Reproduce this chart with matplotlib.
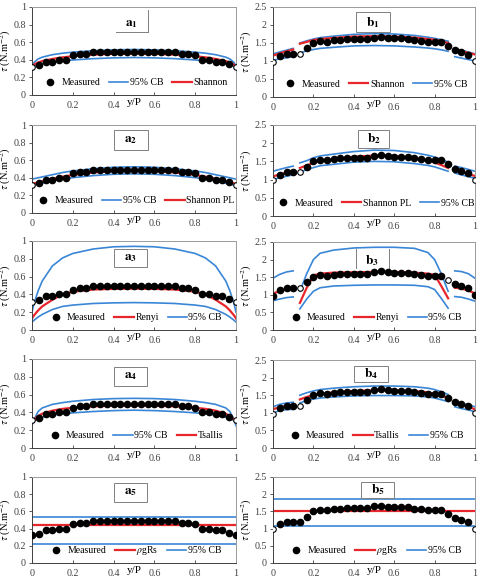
import numpy as np
import matplotlib
matplotlib.use('Agg')
import matplotlib.pyplot as plt
from matplotlib.lines import Line2D
from matplotlib.patches import Rectangle

plt.rcParams['font.family'] = ['Liberation Serif', 'DejaVu Serif']
plt.rcParams['mathtext.fontset'] = 'stix'

RED = '#e8262b'
BLUE = '#3a86d6'

# measured points (31 verticals, y/P)
ym = [0, 0.033, 0.067, 0.1, 0.133, 0.167, 0.2, 0.233, 0.267, 0.3, 0.333,
      0.367, 0.4, 0.433, 0.467, 0.5, 0.533, 0.567, 0.6, 0.633, 0.667,
      0.7, 0.733, 0.767, 0.8, 0.833, 0.867, 0.9, 0.933, 0.967, 1]
tau_a = [0.32, 0.34, 0.38, 0.38, 0.40, 0.40, 0.45, 0.47, 0.47, 0.49, 0.49,
         0.49, 0.49, 0.49, 0.49, 0.49, 0.49, 0.49, 0.49, 0.49, 0.49,
         0.49, 0.47, 0.47, 0.45, 0.40, 0.40, 0.38, 0.38, 0.35, 0.32]
tau_b = [0.98, 1.13, 1.20, 1.20, 1.20, 1.35, 1.50, 1.55, 1.53, 1.57, 1.58,
         1.60, 1.60, 1.60, 1.60, 1.65, 1.67, 1.64, 1.63, 1.63, 1.62,
         1.58, 1.56, 1.53, 1.53, 1.53, 1.42, 1.30, 1.25, 1.18, 1.00]

# model curves, channel a (smooth over full width)
xa = [0, 0.01, 0.03, 0.05, 0.1, 0.15, 0.2, 0.3, 0.4, 0.5,
      0.6, 0.7, 0.8, 0.85, 0.9, 0.95, 0.97, 0.99, 1]
a1_mod = [0.32, 0.345, 0.37, 0.385, 0.41, 0.428, 0.44, 0.458, 0.468, 0.472,
          0.468, 0.458, 0.44, 0.428, 0.41, 0.385, 0.37, 0.345, 0.32]
a1_up = [0.33, 0.37, 0.41, 0.43, 0.458, 0.475, 0.487, 0.503, 0.513, 0.517,
         0.513, 0.503, 0.487, 0.475, 0.458, 0.43, 0.41, 0.37, 0.33]
a1_lo = [0.30, 0.325, 0.345, 0.355, 0.375, 0.388, 0.398, 0.413, 0.422, 0.426,
         0.422, 0.413, 0.398, 0.388, 0.375, 0.355, 0.345, 0.325, 0.30]
a2_mod = [0.33, 0.336, 0.348, 0.36, 0.39, 0.413, 0.432, 0.46, 0.477, 0.483,
          0.477, 0.46, 0.432, 0.413, 0.39, 0.36, 0.348, 0.336, 0.33]
a2_up = [0.385, 0.39, 0.40, 0.41, 0.435, 0.46, 0.478, 0.503, 0.52, 0.525,
         0.52, 0.503, 0.478, 0.46, 0.435, 0.41, 0.40, 0.39, 0.385]
a2_lo = [0.31, 0.316, 0.328, 0.338, 0.365, 0.385, 0.402, 0.425, 0.44, 0.445,
         0.44, 0.425, 0.402, 0.385, 0.365, 0.338, 0.328, 0.316, 0.31]
a3_mod = [0.13, 0.165, 0.22, 0.265, 0.34, 0.40, 0.43, 0.455, 0.462, 0.465,
          0.462, 0.455, 0.43, 0.40, 0.34, 0.265, 0.22, 0.165, 0.13]
a3_up = [0.20, 0.30, 0.44, 0.55, 0.72, 0.81, 0.86, 0.91, 0.935, 0.94,
         0.935, 0.91, 0.86, 0.81, 0.72, 0.55, 0.44, 0.30, 0.20]
a3_lo = [0.09, 0.11, 0.145, 0.175, 0.23, 0.265, 0.28, 0.298, 0.305, 0.308,
         0.305, 0.298, 0.28, 0.265, 0.23, 0.175, 0.145, 0.11, 0.09]
a4_mod = [0.29, 0.32, 0.36, 0.385, 0.42, 0.44, 0.452, 0.468, 0.476, 0.478,
          0.476, 0.468, 0.452, 0.44, 0.42, 0.385, 0.36, 0.32, 0.29]
a4_up = [0.25, 0.32, 0.41, 0.45, 0.49, 0.51, 0.525, 0.545, 0.555, 0.558,
         0.555, 0.545, 0.525, 0.51, 0.49, 0.45, 0.41, 0.32, 0.25]
a4_lo = [0.30, 0.31, 0.33, 0.345, 0.37, 0.385, 0.395, 0.41, 0.42, 0.425,
         0.42, 0.41, 0.395, 0.385, 0.37, 0.345, 0.33, 0.31, 0.30]
a5_mod, a5_up, a5_lo = 0.44, 0.535, 0.225

# model curves, channel b (three segments)
xb1 = [0, 0.033, 0.067, 0.1]
xb2 = [0.133, 0.167, 0.2, 0.233, 0.3, 0.4, 0.5, 0.6, 0.7, 0.767, 0.8, 0.833, 0.867]
xb3 = [0.9, 0.933, 0.967, 1]
b1_mod = ([1.15, 1.21, 1.27, 1.32],
          [1.48, 1.53, 1.58, 1.61, 1.64, 1.68, 1.69, 1.68, 1.65, 1.61, 1.59, 1.55, 1.50],
          [1.32, 1.27, 1.23, 1.18])
b1_up = ([1.20, 1.25, 1.30, 1.35],
         [1.50, 1.56, 1.61, 1.65, 1.69, 1.74, 1.76, 1.75, 1.71, 1.66, 1.63, 1.59, 1.55],
         [1.35, 1.30, 1.25, 1.20])
b1_lo = ([1.02, 1.06, 1.09, 1.12],
         [1.23, 1.28, 1.32, 1.35, 1.38, 1.42, 1.43, 1.42, 1.39, 1.36, 1.34, 1.31, 1.27],
         [1.12, 1.08, 1.04, 1.00])
b2_mod = ([1.09, 1.14, 1.19, 1.23],
          [1.32, 1.39, 1.46, 1.51, 1.56, 1.63, 1.66, 1.65, 1.59, 1.52, 1.47, 1.40, 1.32],
          [1.27, 1.21, 1.15, 1.10])
b2_up = ([1.23, 1.28, 1.33, 1.37],
         [1.46, 1.52, 1.60, 1.65, 1.70, 1.77, 1.81, 1.80, 1.74, 1.67, 1.62, 1.55, 1.48],
         [1.37, 1.33, 1.28, 1.23])
b2_lo = ([1.00, 1.05, 1.09, 1.13],
         [1.21, 1.27, 1.33, 1.38, 1.42, 1.48, 1.50, 1.49, 1.44, 1.39, 1.35, 1.29, 1.23],
         [1.18, 1.13, 1.08, 1.04])
b3_mod = ([1.04, 1.10, 1.15, 1.18],
          [0.77, 1.20, 1.55, 1.60, 1.63, 1.64, 1.65, 1.65, 1.63, 1.60, 1.57, 1.25, 0.90],
          [1.20, 1.18, 1.12, 1.04])
b3_up = ([1.47, 1.58, 1.65, 1.68],
         [1.10, 1.60, 2.00, 2.18, 2.27, 2.33, 2.35, 2.35, 2.32, 2.20, 2.00, 1.60, 1.10],
         [1.68, 1.66, 1.60, 1.47])
b3_lo = ([0.83, 0.88, 0.92, 0.94],
         [0.60, 0.88, 1.10, 1.20, 1.25, 1.27, 1.28, 1.28, 1.27, 1.23, 1.15, 0.90, 0.62],
         [0.95, 0.93, 0.88, 0.82])
b4_mod = ([1.10, 1.16, 1.20, 1.22],
          [1.38, 1.45, 1.50, 1.54, 1.58, 1.62, 1.64, 1.64, 1.62, 1.58, 1.54, 1.49, 1.42],
          [1.27, 1.22, 1.17, 1.10])
b4_up = ([1.17, 1.24, 1.28, 1.30],
         [1.50, 1.57, 1.62, 1.66, 1.70, 1.74, 1.76, 1.76, 1.74, 1.70, 1.66, 1.60, 1.52],
         [1.30, 1.27, 1.23, 1.17])
b4_lo = ([1.00, 1.06, 1.09, 1.10],
         [1.28, 1.35, 1.39, 1.42, 1.45, 1.48, 1.49, 1.49, 1.48, 1.45, 1.42, 1.37, 1.32],
         [1.17, 1.12, 1.08, 1.03])
b5_mod, b5_up, b5_lo = 1.50, 1.85, 1.08

# panel setup: (label, model, up, lo, model name, legend order, open markers, box, rows px)
panels_a = [
    ('1', a1_mod, a1_up, a1_lo, 'Shannon', 'cb_first', [0, 30], 'corner', (7, 95)),
    ('2', a2_mod, a2_up, a2_lo, 'Shannon PL', 'cb_first', [0, 30], (0.40, 0.72, 0.17, 0.22), (125, 213)),
    ('3', a3_mod, a3_up, a3_lo, 'Renyi', 'mod_first', [0, 30], (0.40, 0.71, 0.165, 0.20), (241, 330)),
    ('4', a4_mod, a4_up, a4_lo, 'Tsallis', 'cb_first', [0, 30], (0.40, 0.70, 0.165, 0.21), (359, 448)),
    ('5', a5_mod, a5_up, a5_lo, r'$\rho$gRs', 'mod_first', [], (0.40, 0.71, 0.165, 0.22), (477, 563)),
]
panels_b = [
    ('1', b1_mod, b1_up, b1_lo, 'Shannon', 'mod_first', [0, 4, 30], (0.41, 0.72, 0.17, 0.22), (7, 97)),
    ('2', b2_mod, b2_up, b2_lo, 'Shannon PL', 'mod_first', [0, 4, 30], (0.42, 0.75, 0.155, 0.20), (125, 216)),
    ('3', b3_mod, b3_up, b3_lo, 'Renyi', 'mod_first', [4, 26], 'sides', (242, 330)),
    ('4', b4_mod, b4_up, b4_lo, 'Tsallis', 'mod_first', [0, 4, 30], (0.40, 0.75, 0.17, 0.18), (360, 448)),
    ('5', b5_mod, b5_up, b5_lo, r'$\rho$gRs', 'mod_first', [0, 30], (0.435, 0.76, 0.165, 0.18), (477, 563)),
]

W, H = 482, 588
fig = plt.figure(figsize=(W / 100, H / 100), dpi=100)


def draw(ax, ch, p, width_px):
    lab, mod, up, lo, name, order, opn, box, _ = p
    tau = tau_a if ch == 'a' else tau_b
    if np.isscalar(mod):
        for v, c, lw in ((up, BLUE, 1.2), (lo, BLUE, 1.2), (mod, RED, 1.6)):
            ax.axhline(v, color=c, lw=lw, zorder=2)
    elif ch == 'a':
        ax.plot(xa, up, color=BLUE, lw=1.2, zorder=2)
        ax.plot(xa, lo, color=BLUE, lw=1.2, zorder=2)
        ax.plot(xa, mod, color=RED, lw=1.6, zorder=2)
    else:
        for xs, u, l, m in zip((xb1, xb2, xb3), up, lo, mod):
            ax.plot(xs, u, color=BLUE, lw=1.2, zorder=2)
            ax.plot(xs, l, color=BLUE, lw=1.2, zorder=2)
            ax.plot(xs, m, color=RED, lw=1.6, zorder=2)
    filled = [i for i in range(len(ym)) if i not in opn]
    ax.plot([ym[i] for i in filled], [tau[i] for i in filled], 'o', color='black',
            ms=4.5, zorder=3)
    ax.plot([ym[i] for i in opn], [tau[i] for i in opn], 'o', mfc='white', mec='black',
            mew=0.8, ms=4.0, zorder=3)

    ax.set_xlim(0, 1)
    if ch == 'a':
        ax.set_ylim(0, 1)
        ax.set_yticks([0, 0.2, 0.4, 0.6, 0.8, 1])
        ax.set_yticklabels(['0', '0.2', '0.4', '0.6', '0.8', '1'])
    else:
        ax.set_ylim(0, 2.5)
        ax.set_yticks([0, 0.5, 1, 1.5, 2, 2.5])
        ax.set_yticklabels(['0', '0.5', '1', '1.5', '2', '2.5'])
    ax.set_xticks([0, 0.2, 0.4, 0.6, 0.8, 1])
    ax.set_xticklabels(['0', '0.2', '0.4', '0.6', '0.8', '1'])
    ax.tick_params(axis='both', labelsize=7.2, length=2.5, width=0.6, pad=2, colors='#404040')
    ax.tick_params(axis='x', direction='in', pad=4)
    for s in ax.spines.values():
        s.set_color('#9a9a9a')
        s.set_linewidth(0.7)
    ax.spines['bottom'].set_color('#404040')
    ax.spines['left'].set_color('#404040')

    ax.set_ylabel(r'$\tau$ (N.m$^{-2}$)', fontsize=7.5, va='center')
    ax.yaxis.set_label_coords(-26 / width_px, 0.5)
    ax.text(0.5, -0.035, 'y/P', transform=ax.transAxes, ha='center', va='top', fontsize=8)

    # panel tag
    if box == 'corner':
        ax.plot([0.41, 0.57], [0.72, 0.72], color='#808080', lw=0.7, transform=ax.transAxes)
        ax.plot([0.57, 0.57], [0.72, 0.97], color='#808080', lw=0.7, transform=ax.transAxes)
        cx, cy = 0.49, 0.81
    elif box == 'sides':
        for xx in (0.41, 0.575):
            ax.plot([xx, xx], [0.70, 0.92], color='#808080', lw=0.7, transform=ax.transAxes)
        cx, cy = 0.49, 0.79
    else:
        ax.add_patch(Rectangle(box[:2], box[2], box[3], transform=ax.transAxes,
                               fc='white', ec='#808080', lw=0.7, zorder=4))
        cx, cy = box[0] + box[2] / 2, box[1] + box[3] / 2
    ax.text(cx, cy, r'$\mathbf{%s}_{\mathbf{%s}}$' % (ch, lab), transform=ax.transAxes,
            ha='center', va='center', fontsize=9.5, zorder=5)

    h_m = Line2D([], [], ls='none', marker='o', color='black', ms=4.5)
    h_cb = Line2D([], [], color=BLUE, lw=1.2)
    h_mod = Line2D([], [], color=RED, lw=1.6)
    if order == 'cb_first':
        hs, ls = [h_m, h_cb, h_mod], ['Measured', '95% CB', name]
    else:
        hs, ls = [h_m, h_mod, h_cb], ['Measured', name, '95% CB']
    ax.legend(hs, ls, loc='center', bbox_to_anchor=(0.5, 0.14), ncol=3,
              frameon=False, fontsize=7, handlelength=2.0, handletextpad=0.15,
              columnspacing=0.9, borderpad=0.0, borderaxespad=0.0)


for p in panels_a:
    t, b = p[-1]
    ax = fig.add_axes([32 / W, 1 - b / H, 204 / W, (b - t) / H])
    draw(ax, 'a', p, 204)
for p in panels_b:
    t, b = p[-1]
    ax = fig.add_axes([273 / W, 1 - b / H, 202 / W, (b - t) / H])
    draw(ax, 'b', p, 202)

fig.savefig('out.png', dpi=100)
